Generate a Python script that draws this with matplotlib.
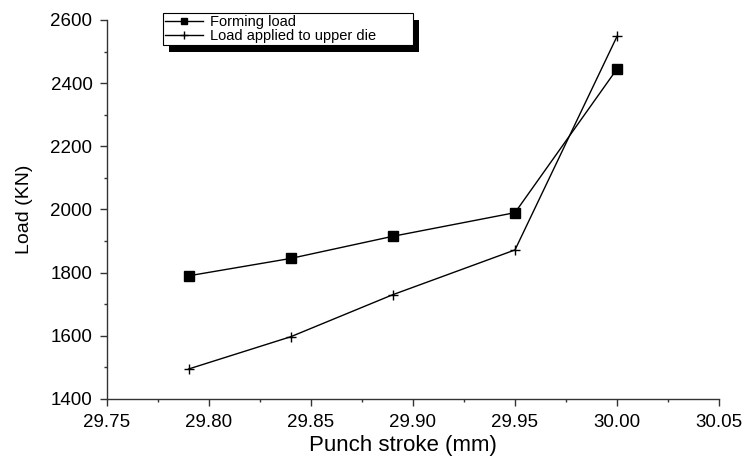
import matplotlib
matplotlib.use("Agg")
import matplotlib.pyplot as plt
import matplotlib.patheffects as pe
from matplotlib.ticker import MultipleLocator, FormatStrFormatter

plt.rcParams['font.family'] = ['Liberation Sans', 'DejaVu Sans']

# data
stroke = [29.79, 29.84, 29.89, 29.95, 30.00]
forming_load = [1790, 1845, 1915, 1990, 2445]
upper_die_load = [1495, 1597, 1730, 1872, 2548]

fig = plt.figure(figsize=(7.46, 4.63), dpi=100)
ax = fig.add_axes([107/746, 1-399/463, (719-107)/746, (399-20)/463])

ax.plot(stroke, forming_load, color='black', lw=1.0, marker='s', ms=6.5,
        label='Forming load')
ax.plot(stroke, upper_die_load, color='black', lw=1.0, marker='+', ms=7,
        mew=1.0, label='Load applied to upper die')

ax.set_xlim(29.75, 30.05)
ax.set_ylim(1400, 2600)
ax.xaxis.set_major_locator(MultipleLocator(0.05))
ax.xaxis.set_minor_locator(MultipleLocator(0.025))
ax.yaxis.set_major_locator(MultipleLocator(200))
ax.yaxis.set_minor_locator(MultipleLocator(100))
ax.xaxis.set_major_formatter(FormatStrFormatter('%.2f'))

for s in ['top', 'right']:
    ax.spines[s].set_visible(False)
for s in ['left', 'bottom']:
    ax.spines[s].set_linewidth(1.0)
    ax.spines[s].set_color('#333333')

ax.tick_params(which='major', direction='out', length=5, width=1.0,
               labelsize=13.5, colors='#333333', labelcolor='black')
ax.tick_params(which='minor', direction='out', length=2.5, width=1.0,
               colors='#333333')
ax.tick_params(axis='x', pad=6)
ax.tick_params(axis='y', pad=5.5)

ax.set_xlabel('Punch stroke (mm)', fontsize=16)
ax.set_ylabel('Load (KN)', fontsize=14)
ax.xaxis.set_label_coords(0.484, -0.095)
ax.yaxis.set_label_coords(-0.121, 0.5)

leg = ax.legend(loc='upper left',
                bbox_to_anchor=(163/746, 0, 250/746, 1-12.7/463),
                bbox_transform=fig.transFigure, borderaxespad=0, mode='expand',
                fontsize=10.5, handlelength=2.6, handletextpad=0.5,
                labelspacing=0.0, borderpad=0.15, frameon=True, framealpha=1.0,
                fancybox=False, markerscale=0.75)
frame = leg.get_frame()
frame.set_facecolor('white')
frame.set_edgecolor('black')
frame.set_linewidth(0.8)
frame.set_path_effects([pe.SimplePatchShadow(offset=(4, -5), shadow_rgbFace='black', alpha=1.0),
                        pe.Normal()])

fig.savefig('out.png', dpi=100)
